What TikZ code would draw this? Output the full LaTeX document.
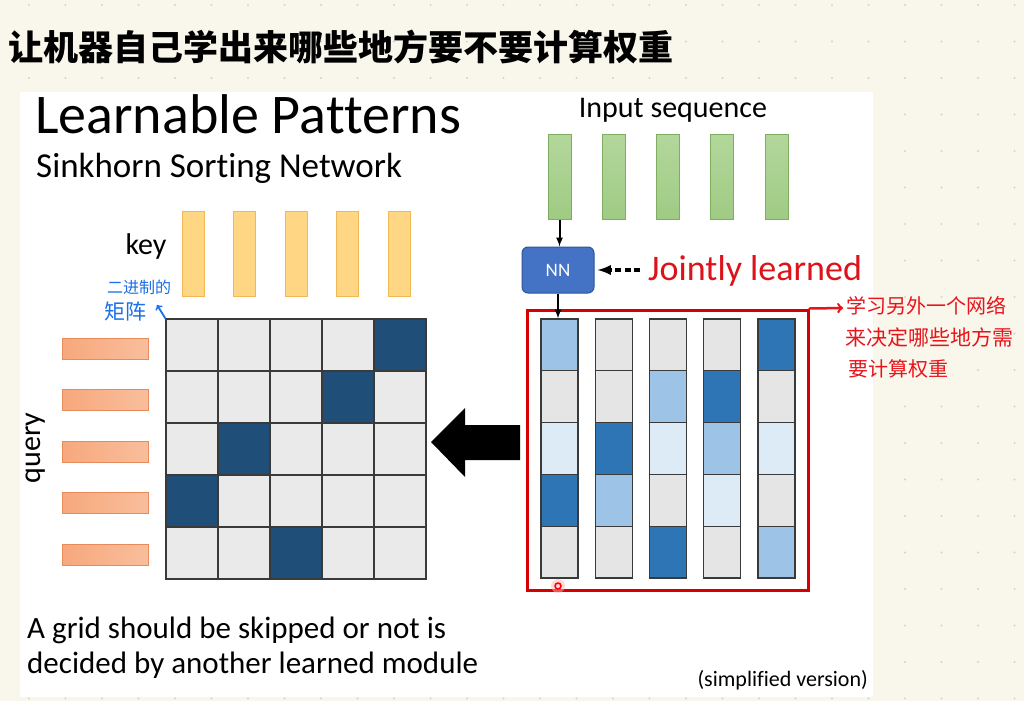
\documentclass[tikz,border=0pt]{standalone}
\usepackage{fontspec}
\setmainfont{Carlito}[Ligatures=NoCommon]
\newfontfamily\cjk{Noto Sans CJK SC}
\usetikzlibrary{positioning,shapes,arrows,calc}

\definecolor{paper}{HTML}{F9F7EC}
\definecolor{dotgray}{HTML}{D6D4C9}
\definecolor{gridline}{HTML}{3A3A3A}
\definecolor{cellgray}{HTML}{EAEAEA}
\definecolor{celldark}{HTML}{1F4E79}
\definecolor{maskgray}{HTML}{E6E5E5}
\definecolor{masklight}{HTML}{9DC3E6}
\definecolor{maskpale}{HTML}{DDEBF7}
\definecolor{maskdark}{HTML}{2E75B6}
\definecolor{keyfill}{HTML}{FFD684}
\definecolor{keyline}{HTML}{F0B955}
\definecolor{queryleft}{HTML}{F7A87C}
\definecolor{queryright}{HTML}{F9BE9C}
\definecolor{queryline}{HTML}{E88B5C}
\definecolor{seqtop}{HTML}{B3D79B}
\definecolor{seqbottom}{HTML}{9FCB84}
\definecolor{seqline}{HTML}{7FAE62}
\definecolor{nnblue}{HTML}{4472C4}
\definecolor{nnline}{HTML}{2F5597}
\definecolor{slidered}{HTML}{D60000}
\definecolor{penred}{HTML}{E8141B}
\definecolor{penblue}{HTML}{1C6FEA}

\begin{document}
\begin{tikzpicture}[
    x=1pt, y=-1pt,
    every node/.style={inner sep=0pt},
    cell/.style={draw=gridline, line width=1.3pt, fill=cellgray, minimum width=52pt, minimum height=52pt},
    maskcell/.style={draw=gridline, line width=1.2pt, minimum width=37pt, minimum height=51.8pt},
    keybar/.style={draw=keyline, fill=keyfill, line width=1pt, minimum width=22pt, minimum height=85pt},
    querybar/.style={draw=queryline, left color=queryleft, right color=queryright, line width=1pt, minimum width=86pt, minimum height=21pt},
    seqbar/.style={draw=seqline, top color=seqtop, bottom color=seqbottom, line width=1pt, minimum width=23pt, minimum height=85pt},
    nnbox/.style={draw=nnline, fill=nnblue, rounded corners=6pt, line width=1pt, minimum width=72pt, minimum height=46pt, text=white, font=\fontsize{19}{22}\selectfont},
    maskframe/.style={draw=slidered, line width=3pt, minimum width=281pt, minimum height=280pt},
    label/.style={font=\fontsize{30}{34}\selectfont},
    bodytext/.style={font=\fontsize{31}{36}\selectfont},
    flow/.style={-latex, line width=2pt},
    jointflow/.style={-latex, line width=3.5pt, dash pattern=on 6pt off 3.5pt},
    redpen/.style={draw=penred, line width=2.5pt, ->, line cap=round},
    bluepen/.style={draw=penblue, line width=1.8pt, ->, line cap=round}
]
\useasboundingbox (0,0) rectangle (1024,701);
\fill[paper] (0,0) rectangle (1024,701);

% dotted notebook paper
\foreach \i in {0,...,27}
  \foreach \j in {0,...,19}
    \fill[dotgray] (29+36.5*\i, 5+36.5*\j) circle (1.1pt);

% the slide
\fill[white] (20,92) rectangle (873,697);

% titles
\node[anchor=base west, font=\fontsize{56}{60}\selectfont] (title) at (35,133) {Learnable Patterns};
\node[anchor=base west, font=\fontsize{35}{40}\selectfont] (subtitle) at (36,177) {Sinkhorn Sorting Network};

% key / query
\foreach \c in {0,...,4}
  \node[keybar] (k-\c) at (193+51.5*\c, 253.5) {};
\foreach \r in {0,...,4}
  \node[querybar] (q-\r) at (105, 348.5+51.5*\r) {};
\node[label, anchor=base] (keylabel) at (146,254) {key};
\node[label, rotate=90] (querylabel) at (36,448) {query};

% attention grid
\foreach \r in {0,...,4}
  \foreach \c in {0,...,4}
    \node[cell] (g-\r-\c) at (192+52*\c, 345+52*\r) {};
\foreach \r/\c in {0/4,1/3,2/1,3/0,4/2}
  \node[cell, fill=celldark] at (g-\r-\c) {};

% input sequence and NN
\node[label, anchor=base] (inputlabel) at (673,117) {Input sequence};
\foreach \c in {0,...,4}
  \node[seqbar] (s-\c) at (559.5+54.3*\c, 176.5) {};
\node[nnbox] (nn) at (558,270) {NN};
\node[anchor=base west, text=penred!95!black, font=\fontsize{36}{40}\selectfont] (joint) at (648,280) {Jointly learned};

% learned mask
\node[maskframe] (mask) at (667.5,450) {};
\foreach \c/\shades in {0/{masklight,maskgray,maskpale,maskdark,maskgray},
                        1/{maskgray,maskgray,maskdark,masklight,maskgray},
                        2/{maskgray,masklight,maskpale,maskgray,maskdark},
                        3/{maskgray,maskdark,masklight,maskpale,maskgray},
                        4/{maskdark,maskgray,maskpale,maskgray,masklight}}
  \foreach \s [count=\r from 0] in \shades
    \node[maskcell, fill=\s] (m-\c-\r) at (559.5+54.25*\c, 344.9+51.8*\r) {};

% connectors
\draw[flow] (s-0.south) -- (s-0.south |- nn.north);
\draw[flow] (nn.south) -- (nn.south |- m-0-0.north);
\draw[jointflow, shorten <=8pt, shorten >=3pt] (nn.east -| joint.west) -- (nn.east);
\fill (431,442) -- (465,408) -- (465,425) -- (520,425) -- (520,460) -- (465,460) -- (465,477) -- cycle;

% cursor mark
\fill[red!30, opacity=.5] (558,586) circle (7pt);
\draw[red, line width=1.5pt] (558,586) circle (3pt);

% captions
\node[bodytext, anchor=base west] (caption1) at (27,638) {A grid should be skipped or not is};
\node[bodytext, anchor=base west] (caption2) at (27,673) {decided by another learned module};
\node[anchor=base east, font=\fontsize{22}{26}\selectfont] (simplified) at (868,686) {(simplified version)};

% handwritten notes
\node[anchor=west, font=\cjk\bfseries\fontsize{35}{40}\selectfont] (headline) at (8,47) {让机器自己学出来哪些地方要不要计算权重};
\coordinate (notetip) at (843,308);
\draw[redpen] (mask.north east) -- (notetip);
\node[anchor=west, text=penred, font=\cjk\fontsize{20}{24}\selectfont] (note1) at (846,306) {学习另外一个网络};
\node[anchor=west, text=penred, font=\cjk\fontsize{21}{24}\selectfont] (note2) at (845,337) {来决定哪些地方需};
\node[anchor=west, text=penred, font=\cjk\fontsize{20}{24}\selectfont] (note3) at (848,369) {要计算权重};
\coordinate (bluetip) at (157,305);
\draw[bluepen] (g-0-0.north west) -- (bluetip);
\node[anchor=west, text=penblue, font=\cjk\fontsize{16}{20}\selectfont] (blue1) at (107,287) {二进制的};
\node[anchor=west, text=penblue, font=\cjk\fontsize{21}{24}\selectfont] (blue2) at (104,312) {矩阵};
\end{tikzpicture}
\end{document}
